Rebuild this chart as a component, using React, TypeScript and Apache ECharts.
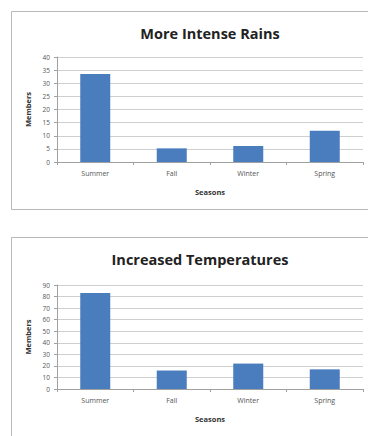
import React, { useEffect, useRef } from "react";
import * as echarts from "echarts";

const seasons = ["Summer", "Fall", "Winter", "Spring"];
const rainsTitle = "More Intense Rains";
const rainsValues = [33.5, 5.2, 6.1, 11.9];
const tempsTitle = "Increased Temperatures";
const tempsValues = [83, 16, 22, 17];
const yAxisName = "Members";
const xAxisName = "Seasons";

const BAR = "#4a7dbd";

export default function App() {
  const ref = useRef<HTMLDivElement>(null);
  useEffect(() => {
    if (!ref.current) return;
    const chart = echarts.init(ref.current, null, { renderer: "svg" });
    const font = "'Open Sans', 'Liberation Sans', sans-serif";
    const mkX = (gi: number) => ({
      type: "category",
      gridIndex: gi,
      data: seasons,
      name: xAxisName,
      nameLocation: "middle",
      nameGap: 26,
      nameTextStyle: { fontSize: 7.5, fontWeight: "bold", color: "#333", fontFamily: font },
      axisLine: { show: true, lineStyle: { color: "#a0a0a0", width: 1 } },
      axisTick: { show: true, length: 3, lineStyle: { color: "#a0a0a0" } },
      axisLabel: { fontSize: 7, color: "#555", margin: 8, fontFamily: font },
    });
    const mkY = (gi: number, max: number, interval: number) => ({
      type: "value",
      gridIndex: gi,
      min: 0,
      max,
      interval,
      name: yAxisName,
      nameLocation: "middle",
      nameGap: 21,
      nameRotate: 90,
      nameTextStyle: { fontSize: 7.5, fontWeight: "bold", color: "#333", fontFamily: font },
      axisLine: { show: true, lineStyle: { color: "#a0a0a0", width: 1 } },
      axisTick: { show: true, length: 3, inside: false, lineStyle: { color: "#a0a0a0" } },
      axisLabel: { fontSize: 6.5, color: "#555", margin: 7, fontFamily: font },
      splitLine: { show: true, lineStyle: { color: "#cfcfcf", width: 1 } },
    });
    chart.setOption({
      animation: false,
      backgroundColor: "#ffffff",
      graphic: [
        {
          type: "rect",
          shape: { x: 11.5, y: 11.5, width: 370, height: 198 },
          style: { fill: "none", stroke: "#b8b8b8", lineWidth: 1 },
        },
        {
          type: "rect",
          shape: { x: 11.5, y: 237.5, width: 370, height: 200 },
          style: { fill: "none", stroke: "#b8b8b8", lineWidth: 1 },
        },
      ],
      title: [
        {
          text: rainsTitle,
          left: 205,
          top: 21,
          textAlign: "center",
          textStyle: { fontSize: 14.5, fontWeight: "bold", color: "#222", fontFamily: font },
        },
        {
          text: tempsTitle,
          left: 195,
          top: 247,
          textAlign: "center",
          textStyle: { fontSize: 14.5, fontWeight: "bold", color: "#222", fontFamily: font },
        },
      ],
      grid: [
        { left: 57, top: 57, width: 306, height: 105 },
        { left: 57, top: 285, width: 306, height: 104 },
      ],
      xAxis: [mkX(0), mkX(1)],
      yAxis: [mkY(0, 40, 5), mkY(1, 90, 10)],
      series: [
        {
          type: "bar",
          xAxisIndex: 0,
          yAxisIndex: 0,
          data: rainsValues,
          barWidth: 30,
          itemStyle: { color: BAR },
        },
        {
          type: "bar",
          xAxisIndex: 1,
          yAxisIndex: 1,
          data: tempsValues,
          barWidth: 30,
          itemStyle: { color: BAR },
        },
      ],
    });
    return () => chart.dispose();
  }, []);
  return (
    <div
      ref={ref}
      style={{ position: "fixed", left: 0, top: 0, width: 368, height: 436, background: "#fff" }}
    />
  );
}
